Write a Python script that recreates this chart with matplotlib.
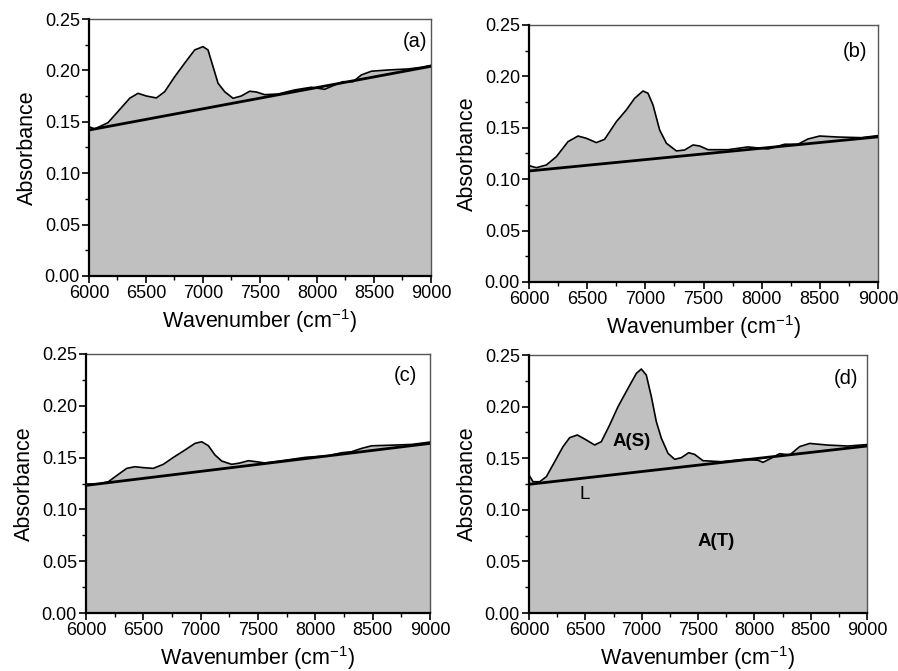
import matplotlib
matplotlib.use("Agg")
import matplotlib.pyplot as plt
from matplotlib.ticker import MultipleLocator

plt.rcParams['font.family'] = ['Liberation Sans', 'DejaVu Sans']
plt.rcParams['mathtext.fontset'] = 'custom'
plt.rcParams['mathtext.rm'] = 'Liberation Sans'
plt.rcParams['mathtext.it'] = 'Liberation Sans:italic'
plt.rcParams['mathtext.bf'] = 'Liberation Sans:bold'

# Panel (a)
wn_a = [6000, 6050, 6167, 6254, 6357, 6430, 6503, 6591, 6664, 6752, 6839, 6927, 7000, 7044,
        7088, 7132, 7190, 7263, 7336, 7409, 7468, 7541, 7658, 7804, 7950, 8067, 8155, 8228,
        8316, 8389, 8477, 8623, 8798, 8915, 9000]
abs_a = [0.1453, 0.143, 0.1492, 0.160, 0.1729, 0.1777, 0.1751, 0.1732, 0.1793, 0.1939, 0.207,
         0.2199, 0.2231, 0.2199, 0.2037, 0.1875, 0.1793, 0.1729, 0.1751, 0.1797, 0.179, 0.1764,
         0.177, 0.181, 0.1836, 0.1816, 0.1858, 0.189, 0.189, 0.1956, 0.1992, 0.2004, 0.2014,
         0.203, 0.2049]
base_a = [0.1420, 0.2040]

# Panel (b)
wn_b = [6000, 6063, 6149, 6235, 6335, 6421, 6493, 6579, 6650, 6751, 6837, 6908, 6980, 7023,
        7066, 7123, 7181, 7267, 7338, 7410, 7467, 7539, 7711, 7883, 8055, 8198, 8312, 8398,
        8499, 8656, 8857, 9000]
abs_b = [0.1132, 0.1112, 0.1138, 0.1219, 0.1365, 0.142, 0.1398, 0.1356, 0.1388, 0.156, 0.1674,
         0.1787, 0.1858, 0.1836, 0.1722, 0.1479, 0.135, 0.1275, 0.1284, 0.1333, 0.1323, 0.1287,
         0.1287, 0.1314, 0.1294, 0.134, 0.134, 0.1391, 0.142, 0.141, 0.1404, 0.1424]
base_b = [0.1080, 0.1412]

# Panel (c)
wn_c = [6000, 6108, 6195, 6282, 6355, 6427, 6500, 6587, 6674, 6762, 6863, 6950, 7009, 7067,
        7125, 7183, 7270, 7343, 7416, 7488, 7561, 7736, 7910, 8113, 8230, 8317, 8404, 8491,
        8666, 8840, 9000]
abs_c = [0.1245, 0.1245, 0.1267, 0.1338, 0.1396, 0.1412, 0.1403, 0.1396, 0.1435, 0.1502,
         0.1573, 0.1637, 0.1653, 0.1615, 0.1525, 0.1467, 0.1435, 0.1448, 0.147, 0.146, 0.1448,
         0.1474, 0.1502, 0.1518, 0.1547, 0.1557, 0.1589, 0.1614, 0.162, 0.1627, 0.165]
base_c = [0.1232, 0.1637]

# Panel (d)
wn_d = [6000, 6036, 6095, 6154, 6228, 6302, 6361, 6429, 6494, 6583, 6642, 6716, 6790, 6879,
        6953, 6997, 7041, 7086, 7130, 7175, 7234, 7293, 7352, 7417, 7470, 7544, 7707, 7914,
        8033, 8077, 8136, 8225, 8314, 8402, 8491, 8654, 8831, 9000]
abs_d = [0.1337, 0.1272, 0.1272, 0.1321, 0.1466, 0.1612, 0.1699, 0.1725, 0.1686, 0.1628,
         0.166, 0.1822, 0.1999, 0.2177, 0.2322, 0.2364, 0.2306, 0.2096, 0.1854, 0.1693, 0.1547,
         0.1489, 0.1505, 0.1553, 0.1537, 0.1476, 0.1466, 0.1489, 0.148, 0.146, 0.1492, 0.1544,
         0.1531, 0.1612, 0.1643, 0.1627, 0.1618, 0.1632]
base_d = [0.1247, 0.1618]

panel_labels = ['(a)', '(b)', '(c)', '(d)']
xticks = [6000, 6500, 7000, 7500, 8000, 8500, 9000]
yticks = [0.00, 0.05, 0.10, 0.15, 0.20, 0.25]

W, H = 898, 671
fig = plt.figure(figsize=(W / 100, H / 100), dpi=100)

# axes rectangles in pixels: left, right, top, bottom
rects = [(89, 431, 19, 276), (529, 878, 25, 282), (86, 430, 354, 613), (529, 867, 355, 613)]
data = [(wn_a, abs_a, base_a), (wn_b, abs_b, base_b), (wn_c, abs_c, base_c), (wn_d, abs_d, base_d)]
label_pos = [(8860, 0.228), (8800, 0.224), (8790, 0.229), (8814, 0.227)]

for i, ((l, r, t, b), (wn, ab, base)) in enumerate(zip(rects, data)):
    ax = fig.add_axes([l / W, 1 - b / H, (r - l) / W, (b - t) / H])
    ax.fill_between(wn, ab, 0, color='#c0c0c0', lw=0, zorder=1)
    ax.plot(wn, ab, color='black', lw=1.2, zorder=3, solid_joinstyle='round')
    ax.plot([6000, 9000], base, color='black', lw=2.0, zorder=4)
    ax.set_xlim(6000, 9000)
    ax.set_ylim(0, 0.25)
    ax.set_xticks(xticks)
    ax.set_yticks(yticks)
    ax.set_yticklabels(['%.2f' % v for v in yticks])
    ax.xaxis.set_minor_locator(MultipleLocator(250))
    ax.yaxis.set_minor_locator(MultipleLocator(0.025))
    ax.tick_params(which='major', direction='out', length=5, width=1.2, labelsize=13,
                   top=False, right=False, pad=1.5)
    ax.tick_params(which='minor', direction='out', length=3, width=1, top=False, right=False)
    for s in ['left', 'bottom']:
        ax.spines[s].set_linewidth(1.6)
        ax.spines[s].set_color('black')
        ax.spines[s].set_zorder(5)
    for s in ['top', 'right']:
        ax.spines[s].set_linewidth(1.0)
        ax.spines[s].set_color('#555555')
    ax.set_xlabel('Wavenumber (cm$^{-1}$)', fontsize=15.5, labelpad=4)
    ax.set_ylabel('Absorbance', fontsize=15.5, labelpad=5)
    ax.text(label_pos[i][0], label_pos[i][1], panel_labels[i], fontsize=14.5, ha='center', va='center')
    if i == 3:
        ax.text(6909, 0.1666, 'A(S)', fontsize=13.5, fontweight='bold', ha='center', va='center', zorder=6)
        ax.text(7665, 0.0695, 'A(T)', fontsize=13.5, fontweight='bold', ha='center', va='center', zorder=6)
        ax.text(6495, 0.115, 'L', fontsize=13.5, ha='center', va='center', zorder=6)

fig.savefig('out.png', dpi=100)
